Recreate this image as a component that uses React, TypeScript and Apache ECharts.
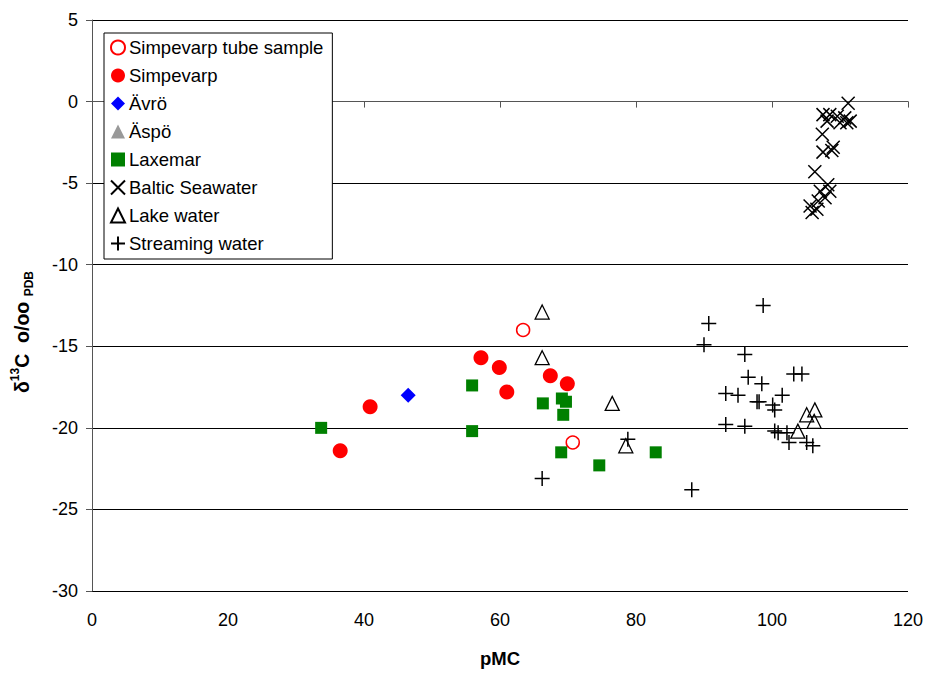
import React, { useEffect, useRef } from "react";
import * as echarts from "echarts";

// pMC vs δ13C, one [pMC, δ13C] pair per sample
const simpevarpTube: number[][] = [
  [63.4, -14.0],
  [70.7, -20.9],
];
const simpevarp: number[][] = [
  [36.5, -21.4],
  [40.9, -18.7],
  [57.2, -15.7],
  [59.9, -16.3],
  [61.0, -17.8],
  [67.4, -16.8],
  [69.9, -17.3],
];
const avro: number[][] = [[46.5, -18.0]];
const aspo: number[][] = [];
const laxemar: number[][] = [
  [33.7, -20.0],
  [55.9, -17.4],
  [55.9, -20.2],
  [66.3, -18.5],
  [69.1, -18.2],
  [69.7, -18.4],
  [69.3, -19.2],
  [69.0, -21.5],
  [74.6, -22.3],
  [82.9, -21.5],
];
const balticSeawater: number[][] = [
  [111.2, -0.1],
  [107.5, -0.8],
  [108.5, -0.8],
  [109.6, -0.9],
  [110.7, -1.0],
  [111.5, -1.2],
  [111.0, -1.3],
  [108.1, -1.2],
  [110.0, -1.3],
  [107.4, -2.0],
  [109.0, -2.8],
  [108.8, -3.0],
  [107.5, -3.1],
  [106.3, -4.3],
  [108.2, -5.1],
  [107.1, -5.5],
  [108.5, -5.5],
  [107.8, -5.9],
  [106.8, -6.1],
  [105.6, -6.4],
  [106.6, -6.6],
  [105.9, -6.8],
];
const lakeWater: number[][] = [
  [66.2, -12.9],
  [66.2, -15.7],
  [76.5, -18.5],
  [78.5, -21.1],
  [103.8, -20.2],
  [105.1, -19.2],
  [106.3, -18.9],
  [106.2, -19.6],
];
const streamingWater: number[][] = [
  [98.7, -12.5],
  [90.7, -13.6],
  [90.0, -14.9],
  [96.0, -15.5],
  [96.5, -16.9],
  [98.5, -17.3],
  [103.2, -16.7],
  [104.4, -16.7],
  [93.2, -17.9],
  [95.0, -18.0],
  [97.8, -18.4],
  [98.1, -18.4],
  [101.5, -18.0],
  [100.1, -18.6],
  [100.4, -18.9],
  [93.2, -19.8],
  [96.0, -19.9],
  [100.4, -20.2],
  [100.9, -20.3],
  [102.2, -20.3],
  [102.5, -20.9],
  [105.1, -20.9],
  [106.0, -21.1],
  [88.2, -23.8],
  [66.2, -23.1],
  [78.8, -20.7],
];

const xTicks = { min: 0, max: 120, interval: 20 };
const yTicks = { min: -30, max: 5, interval: 5 };

const FONT = "'Liberation Sans', Arial, sans-serif";
const CROSS = "path://M0,0L10,10M10,0L0,10";
const PLUS = "path://M5,0L5,10M0,5L10,5";
const HOLLOW = "rgba(255,255,255,0)";

export default function App() {
  const ref = useRef<HTMLDivElement>(null);

  useEffect(() => {
    if (!ref.current) return;
    const chart = echarts.init(ref.current, undefined, { renderer: "svg" });

    const titleStyle = { fontFamily: FONT, fontWeight: "bold" as const, color: "#000" };

    const option: echarts.EChartsOption = {
      animation: false,
      backgroundColor: "#fff",
      textStyle: { fontFamily: FONT },
      grid: { left: 92, right: 20, top: 20, bottom: 81, containLabel: false },
      legend: {
        orient: "vertical",
        left: 104,
        top: 33,
        padding: [5, 9, 6, 6],
        itemGap: 9,
        itemWidth: 14,
        itemHeight: 14,
        backgroundColor: "#fff",
        borderColor: "#000",
        borderWidth: 1,
        borderRadius: 0,
        textStyle: { fontFamily: FONT, fontSize: 18.5, color: "#000", lineHeight: 18, padding: [0, 0, 0, -1] },
        data: [
          "Simpevarp tube sample",
          "Simpevarp",
          "Ävrö",
          "Äspö",
          "Laxemar",
          "Baltic Seawater",
          "Lake water",
          "Streaming water",
        ],
      },
      graphic: [
        {
          type: "text",
          x: 22,
          y: 332,
          rotation: Math.PI / 2,
          style: {
            text: "{m|δ}{sup|13}{m|C  o/oo }{sub|PDB}",
            align: "center",
            verticalAlign: "middle",
            rich: {
              m: { ...titleStyle, fontSize: 19.5, lineHeight: 26 },
              sup: { ...titleStyle, fontSize: 12, lineHeight: 13, verticalAlign: "top" },
              sub: { ...titleStyle, fontSize: 12, lineHeight: 13, verticalAlign: "bottom" },
            },
          },
        },
      ],
      xAxis: {
        type: "value",
        ...xTicks,
        name: "pMC",
        nameLocation: "middle",
        nameGap: 58,
        nameTextStyle: { ...titleStyle, fontSize: 18.5 },
        axisLine: { show: true, lineStyle: { color: "#555", width: 1 } },
        axisTick: { show: true, length: 6, lineStyle: { color: "#555" } },
        axisLabel: { fontFamily: FONT, fontSize: 18, color: "#000", margin: 20 },
        splitLine: { show: false },
      },
      yAxis: {
        type: "value",
        ...yTicks,
        axisLine: { show: true, lineStyle: { color: "#555", width: 1 } },
        axisTick: { show: true, length: 6, lineStyle: { color: "#555" } },
        axisLabel: { fontFamily: FONT, fontSize: 18, color: "#000", margin: 14 },
        splitLine: { show: true, lineStyle: { color: "#000", width: 1 } },
      },
      series: [
        {
          name: "Laxemar",
          type: "scatter",
          data: laxemar,
          symbol: "rect",
          symbolSize: 12,
          itemStyle: { color: "#008000", opacity: 1 },
        },
        {
          name: "Simpevarp",
          type: "scatter",
          data: simpevarp,
          symbol: "circle",
          symbolSize: 15,
          itemStyle: { color: "#ff0000", opacity: 1 },
        },
        {
          name: "Simpevarp tube sample",
          type: "scatter",
          data: simpevarpTube,
          symbol: "circle",
          symbolSize: 13,
          itemStyle: { color: "#fff", borderColor: "#ff0000", borderWidth: 1.5, opacity: 1 },
        },
        {
          name: "Ävrö",
          type: "scatter",
          data: avro,
          symbol: "diamond",
          symbolSize: 15,
          itemStyle: { color: "#0000ff", opacity: 1 },
        },
        {
          name: "Äspö",
          type: "scatter",
          data: aspo,
          symbol: "triangle",
          symbolSize: 14,
          itemStyle: { color: "#999999", opacity: 1 },
        },
        {
          name: "Lake water",
          type: "scatter",
          data: lakeWater,
          symbol: "triangle",
          symbolSize: 14,
          itemStyle: { color: HOLLOW, borderColor: "#000", borderWidth: 1.3, opacity: 1 },
        },
        {
          name: "Streaming water",
          type: "scatter",
          data: streamingWater,
          symbol: PLUS,
          symbolSize: 15,
          itemStyle: { color: HOLLOW, borderColor: "#000", borderWidth: 1.5, opacity: 1 },
        },
        {
          name: "Baltic Seawater",
          type: "scatter",
          data: balticSeawater,
          symbol: CROSS,
          symbolSize: 13,
          itemStyle: { color: HOLLOW, borderColor: "#000", borderWidth: 1.5, opacity: 1 },
        },
      ],
    };

    chart.setOption(option);
    return () => chart.dispose();
  }, []);

  return <div ref={ref} style={{ width: 928, height: 673, position: "absolute", left: 0, top: 0 }} />;
}
